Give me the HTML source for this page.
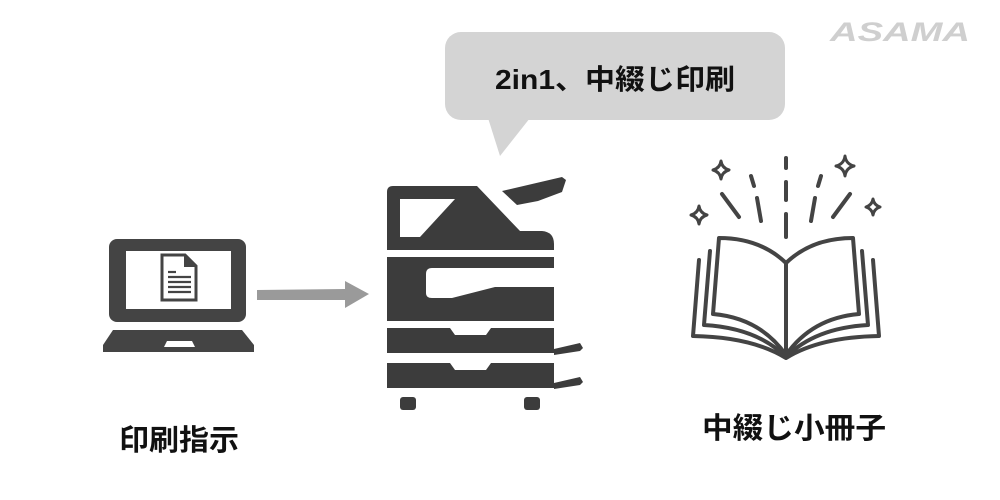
<!DOCTYPE html>
<html><head><meta charset="utf-8"><style>
html,body{margin:0;padding:0;background:#fff;width:1000px;height:500px;overflow:hidden}
svg{display:block}
text{font-family:"Liberation Sans","Noto Sans CJK JP",sans-serif;font-weight:bold}
</style></head><body>
<svg width="1000" height="500" viewBox="0 0 1000 500" xmlns="http://www.w3.org/2000/svg">
<rect width="1000" height="500" fill="#fff"/>
<!-- logo -->
<text x="830" y="41" font-size="27" font-style="italic" fill="#cfcfcf" textLength="140" lengthAdjust="spacingAndGlyphs">ASAMA</text>
<!-- bubble -->
<rect x="445" y="32" width="340" height="88" rx="16" fill="#d4d4d4"/>
<polygon points="488,118 530,118 500,156" fill="#d4d4d4"/>
<text x="495" y="89" font-size="28" fill="#111" textLength="240" lengthAdjust="spacingAndGlyphs">2in1、中綴じ印刷</text>
<!-- laptop -->
<rect x="109" y="239" width="137" height="83" rx="8" fill="#444"/>
<rect x="126" y="251" width="105" height="58" fill="#fff"/>
<path d="M113,330 L242,330 L254,345 L254,352 L103,352 L103,345 Z" fill="#444"/>
<polygon points="164,347 195,347 192,341 167,341" fill="#fff"/>
<path d="M162,255 L185,255 L196,266 L196,300 L162,300 Z" fill="#fff" stroke="#444" stroke-width="3"/>
<polygon points="184,255 184,267 196,267" fill="#444"/>
<g stroke="#444" stroke-width="2.2">
<line x1="168" y1="272" x2="176" y2="272"/><line x1="168" y1="277" x2="191" y2="277"/><line x1="168" y1="282" x2="191" y2="282"/><line x1="168" y1="287" x2="191" y2="287"/><line x1="168" y1="292" x2="191" y2="292"/>
</g>
<!-- arrow -->
<polygon points="257,290 345,289 345,281 369,294 345,308 345,300 257,300" fill="#9a9a9a"/>
<!-- printer -->
<g fill="#3c3c3c">
<path d="M393,186 L477,186 L520,231 L542,231 Q554,232 554,244 L554,250 L387,250 L387,192 Q387,186 393,186 Z"/>
<polygon points="502,191 562,177 566,180 562,192 538,201 517,205"/>
<path d="M387,257 L554,257 L554,268 L432,268 Q426,268 426,274 L426,293 Q426,298 432,298 L452,298 L495,287 L554,287 L554,321 L387,321 Z"/>
<path d="M387,328 L450,328 L455,335 L486,335 L491,328 L554,328 L554,353 L387,353 Z"/>
<polygon points="554,349 580,343 583,348 580,351 554,355"/>
<path d="M387,363 L450,363 L455,370 L486,370 L491,363 L554,363 L554,388 L387,388 Z"/>
<polygon points="554,383 580,377 583,382 580,385 554,389"/>
<rect x="400" y="397" width="16" height="13" rx="3"/>
<rect x="524" y="397" width="16" height="13" rx="3"/>
</g>
<polygon points="400,199 455,199 420,237 400,237" fill="#fff"/>
<!-- book -->
<g fill="none" stroke="#444" stroke-width="4" stroke-linecap="round" stroke-linejoin="round">
<path d="M786,263 Q760,238 719,238 L713,314 Q760,318 786,355"/>
<path d="M786,263 Q812,238 853,238 L859,314 Q812,318 786,355"/>
<path d="M710,251 L704,325 Q757,328 786,357"/>
<path d="M862,251 L868,325 Q815,328 786,357"/>
<path d="M699,260 L693,336 Q752,337 786,358 Q820,337 879,336 L873,260"/>
<line x1="786" y1="263" x2="786" y2="355"/>
<line x1="786" y1="158" x2="786" y2="168"/>
<line x1="786" y1="182" x2="786" y2="200"/>
<line x1="786" y1="214" x2="786" y2="237"/>
<line x1="751" y1="176" x2="754" y2="186"/>
<line x1="757" y1="198" x2="761" y2="221"/>
<line x1="722" y1="194" x2="739" y2="217"/>
<line x1="821" y1="176" x2="818" y2="186"/>
<line x1="815" y1="198" x2="811" y2="221"/>
<line x1="850" y1="194" x2="833" y2="217"/>
</g>
<g fill="none" stroke="#444" stroke-width="3" stroke-linejoin="round">
<path d="M721,161 Q722,168 729,170 Q722,172 721,179 Q720,172 713,170 Q720,168 721,161 Z"/>
<path d="M699,206 Q700,213 707,215 Q700,217 699,224 Q698,217 691,215 Q698,213 699,206 Z"/>
<path d="M845,156 Q846,164 854,166 Q846,168 845,176 Q844,168 836,166 Q844,164 845,156 Z"/>
<path d="M873,199 Q874,205 880,207 Q874,209 873,215 Q872,209 866,207 Q872,205 873,199 Z"/>
</g>
<!-- labels -->
<text x="119" y="450" font-size="29" fill="#111" textLength="120" lengthAdjust="spacingAndGlyphs">印刷指示</text>
<text x="702" y="438" font-size="29" fill="#111" textLength="184" lengthAdjust="spacingAndGlyphs">中綴じ小冊子</text>
</svg>
</body></html>
